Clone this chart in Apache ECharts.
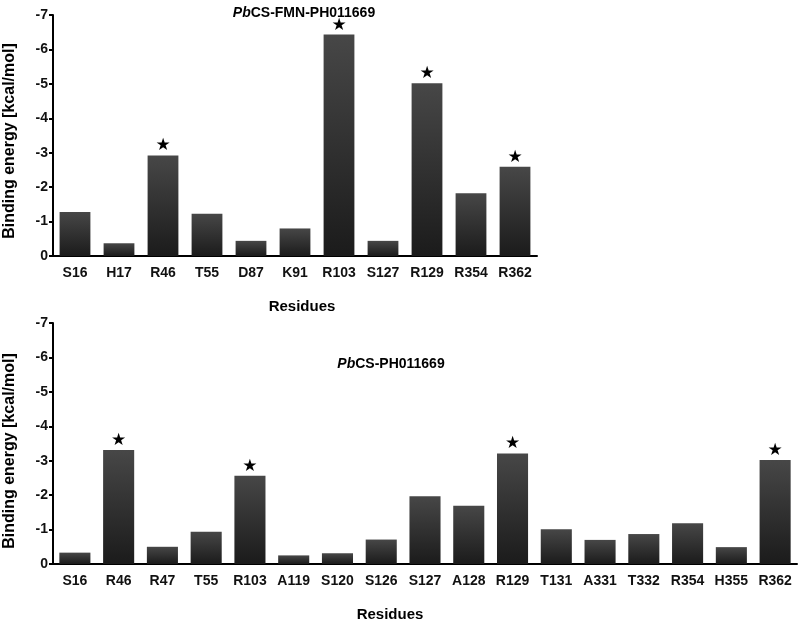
<!DOCTYPE html>
<html>
<head>
<meta charset="utf-8">
<script src="https://cdn.jsdelivr.net/npm/echarts@6/dist/echarts.min.js"></script>
<style>html,body{margin:0;padding:0;background:#fff;}#c{width:800px;height:619px;}</style>
</head>
<body>
<div id="c"></div>
<script>
// Top panel: PbCS-FMN-PH011669
var topResidues = ['S16','H17','R46','T55','D87','K91','R103','S127','R129','R354','R362'];
var topEnergy   = [-1.28,-0.37,-2.92,-1.23,-0.44,-0.80,-6.43,-0.44,-5.02,-1.82,-2.59];
var topStar     = [0,0,1,0,0,0,1,0,1,0,1];
// Bottom panel: PbCS-PH011669
var bottomResidues = ['S16','R46','R47','T55','R103','A119','S120','S126','S127','A128','R129','T131','A331','T332','R354','H355','R362'];
var bottomEnergy   = [-0.33,-3.31,-0.50,-0.94,-2.56,-0.25,-0.31,-0.71,-1.97,-1.69,-3.21,-1.01,-0.70,-0.87,-1.18,-0.49,-3.02];
var bottomStar     = [0,1,0,0,1,0,0,0,0,0,1,0,0,0,0,0,1];
var yMin = -7, yMax = 0, yInterval = 1;
var yName = 'Binding energy [kcal/mol]';
var xName = 'Residues';

var FONT = 'Liberation Sans, Arial, sans-serif';
var barColor = new echarts.graphic.LinearGradient(0,0,0,1,[
  {offset:0,color:'#474747'},{offset:1,color:'#1b1b1b'}]);

function mkBars(vals, stars){
  return vals.map(function(v,i){
    return {value:v, label:{show:!!stars[i]}};
  });
}
function xAxisCfg(cats, gi){
  return {type:'category', gridIndex:gi, data:cats,
    axisLine:{lineStyle:{color:'#000',width:2}},
    axisTick:{show:false},
    axisLabel:{color:'#111',fontFamily:FONT,fontWeight:'bold',fontSize:14,margin:10,interval:0}};
}
function yAxisCfg(gi){
  return {type:'value', gridIndex:gi, min:yMin, max:yMax, interval:yInterval, inverse:true,
    splitLine:{show:false},
    axisLine:{show:true,lineStyle:{color:'#000',width:2}},
    axisTick:{show:true,length:4,lineStyle:{color:'#000',width:2}},
    axisLabel:{color:'#111',fontFamily:FONT,fontWeight:'bold',fontSize:14,margin:5}};
}
var starLabel = {position:'top', distance:1, formatter:'★', color:'#000', fontSize:17, fontFamily:'DejaVu Sans'};
function richTitle(sz){
  return {rich:{i:{fontStyle:'italic',fontWeight:'bold',fontSize:sz,fontFamily:FONT,color:'#000'},
                b:{fontWeight:'bold',fontSize:sz,fontFamily:FONT,color:'#000'}}};
}

var chart = echarts.init(document.getElementById('c'), null, {renderer:'canvas'});
chart.setOption({
  animation:false,
  backgroundColor:'#fff',
  title:[
    {text:'{i|Pb}{b|CS-FMN-PH011669}', left:299, top:1, textAlign:'center', textStyle:richTitle(14)},
    {text:'{i|Pb}{b|CS-PH011669}', left:386, top:352, textAlign:'center', textStyle:richTitle(14)},
    {text:xName, left:297, top:294, textAlign:'center',
      textStyle:{fontWeight:'bold',fontSize:15,fontFamily:FONT,color:'#000'}},
    {text:xName, left:385, top:602, textAlign:'center',
      textStyle:{fontWeight:'bold',fontSize:15,fontFamily:FONT,color:'#000'}}
  ],
  graphic:[
    {type:'text', x:10, y:141, rotation:Math.PI/2,
      style:{text:yName, fontWeight:'bold', fontSize:16, fontFamily:FONT, fill:'#000', align:'center', verticalAlign:'middle'}},
    {type:'text', x:10, y:451, rotation:Math.PI/2,
      style:{text:yName, fontWeight:'bold', fontSize:16, fontFamily:FONT, fill:'#000', align:'center', verticalAlign:'middle'}}
  ],
  grid:[
    {left:53, right:263, top:15, bottom:363},
    {left:53, right:3, top:323, bottom:55}
  ],
  xAxis:[xAxisCfg(topResidues,0), xAxisCfg(bottomResidues,1)],
  yAxis:[yAxisCfg(0), yAxisCfg(1)],
  series:[
    {type:'bar', xAxisIndex:0, yAxisIndex:0, barWidth:'70%', data:mkBars(topEnergy, topStar),
      itemStyle:{color:barColor}, label:starLabel},
    {type:'bar', xAxisIndex:1, yAxisIndex:1, barWidth:'71%', data:mkBars(bottomEnergy, bottomStar),
      itemStyle:{color:barColor}, label:starLabel}
  ]
});
</script>
</body>
</html>
